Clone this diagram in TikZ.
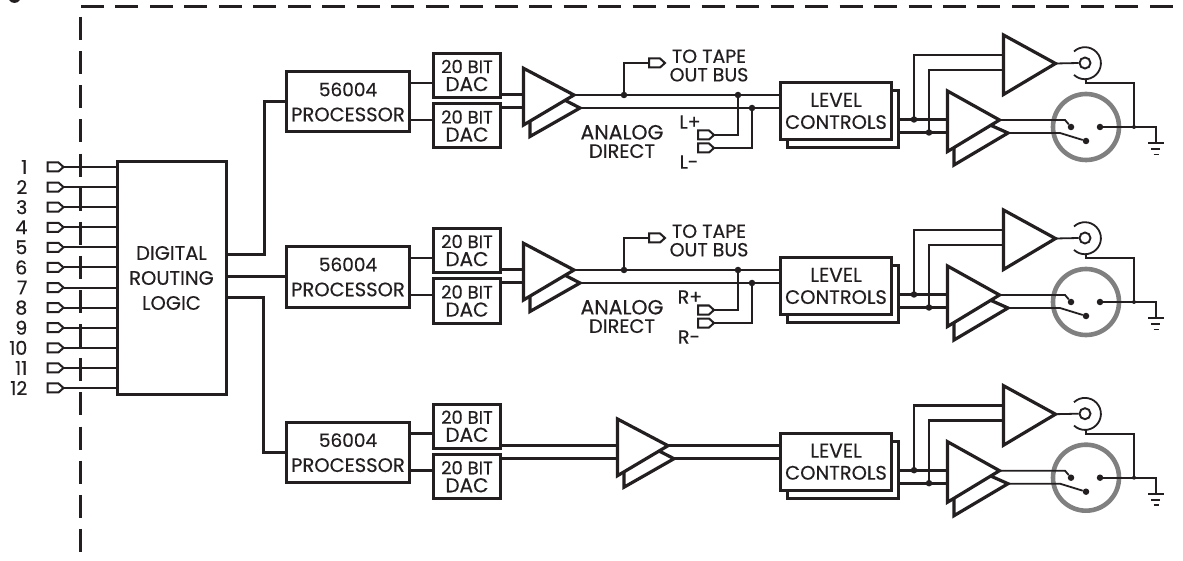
\documentclass[tikz,border=0pt]{standalone}
\usepackage{fontspec}
\setmainfont[FakeBold=0.35]{Poppins}
\definecolor{ink}{HTML}{231F20}
\newcommand{\fs}[1]{\fontsize{#1}{#1}\selectfont}
\tikzset{
  boxa/.style={draw=ink,fill=white,line width=3pt,rectangle,inner sep=0pt,align=center,text=ink},
  proc/.style={boxa,minimum width=123pt,minimum height=60pt,font=\fontsize{19}{25}\selectfont},
  dac/.style={boxa,minimum width=67pt,minimum height=44pt,font=\fontsize{18}{18}\selectfont},
  lev/.style={boxa,minimum width=111pt,minimum height=57pt,font=\fontsize{19}{22}\selectfont},
  lbl/.style={inner sep=0pt,align=center,text=ink,font=\fontsize{18}{18.5}\selectfont},
  bus/.style={draw=ink,line width=2.8pt},
  wire/.style={draw=ink,line width=2.6pt},
  thin wire/.style={draw=ink,line width=1.8pt},
  amp/.style={draw=ink,fill=white,line width=3.2pt,miter limit=10},
  dot/.style={circle,fill=ink,inner sep=0pt,minimum size=6.5pt},
  pin/.style={circle,fill=ink,inner sep=0pt,minimum size=6.5pt},
  plug/.style={draw=ink,fill=white,line width=2pt},
  frame/.style={draw=ink,line width=2.2pt}
}
% name, x, y of tail
\newcommand{\plugat}[3]{%
  \begin{scope}[shift={(#2,#3)}]
    \draw[plug] (0,-4.5) -- (11,-4.5) -- (16,0) -- (11,4.5) -- (0,4.5) -- cycle;
    \coordinate (#1) at (16,0);
  \end{scope}}
% name, x, top, bottom, tipx, tipy, backtipx, backbottomy
\newcommand{\dblamp}[8]{%
  \coordinate (#1-o1) at (#5,#6);
  \coordinate (#1-o2) at (#7,#6+13);
  \draw[amp] (#5-9.5,#6+5) -- (#7,#6+13) -- (#2+6.5,#8) -- (#2+6.5,#4-4);
  \draw[amp] (#2,#3) -- (#5,#6) -- (#2,#4) -- cycle;
  \coordinate (#1-i) at (#2,#6);}
\newcommand{\channel}{%
  \node[proc] (p) at (348,102) {{\fs{18.5}56004}\\{\fs{19.5}PROCESSOR}};
  \node[dac] (d1) at (467,75.5) {20 BIT\\{\fs{20}DAC}};
  \node[dac] (d2) at (467,126) {20 BIT\\{\fs{20}DAC}};
  \coordinate (l1) at (0,83);
  \coordinate (l2) at (0,120);
  \draw[bus] (p.east |- l1) -- (d1.west |- l1);
  \draw[bus] (p.east |- l2) -- (d2.west |- l2);
  \node[boxa,minimum width=111pt,minimum height=57pt] (lb) at (843,119) {};
  \node[lev] (lv) at (836,111) {{\fs{20}LEVEL}\\{\fs{19.5}CONTROLS}};
  % right hand part
  \coordinate (r1) at (0,119.5);
  \coordinate (r2) at (0,132.5);
  \coordinate (s1) at (0,55);
  \coordinate (s2) at (0,70);
  \coordinate (j1) at (914,119.5);
  \coordinate (j2) at (929,132.5);
  \draw[amp] (1003.5,35) -- (1055.5,63.5) -- (1003.5,94.5) -- cycle;
  \coordinate (ta-o) at (1055.5,63.5);
  \dblamp{ra}{947.5}{91}{151.5}{999.5}{120}{1008}{165}
  \draw[wire] (lb.east |- r1) -- (947.5,119.5);
  \draw[wire] (lb.east |- r2) -- (947.5,132.5);
  \draw[wire] (j1) -- (j1 |- s1) -- (1003.5,55);
  \draw[wire] (j2) -- (j2 |- s2) -- (1003.5,70);
  \node[dot] at (j1) {};
  \node[dot] at (j2) {};
  % jack
  \node[circle,draw=ink,fill=white,line width=1.9pt,minimum size=11pt,inner sep=0pt] (jk) at (1085,63) {};
  \draw[thin wire] (ta-o) -- (jk.west);
  \draw[thin wire] (1074,51.5) arc[start angle=-133,end angle=133,radius=16];
  % XLR
  \node[circle,draw=black!50,line width=4.6pt,minimum size=66pt,inner sep=0pt] (xl) at (1086,127) {};
  \node[pin] (x1) at (1071,127) {};
  \node[pin] (x2) at (1086,141) {};
  \node[pin] (x3) at (1100,127) {};
  \coordinate (sh) at (1134,127);
  \coordinate (gn) at (1156,143);
  \draw[thin wire] (ra-o1) -- (1065,120) -- (x1);
  \draw[thin wire] (ra-o2) -- (1060,133) -- (x2);
  \draw[thin wire] (x3) -- (sh) -- (sh -| gn) -- (gn);
  \draw[thin wire] (1086,79) -- (1086,83) -- (1134,83) -- (sh);
  \node[circle,fill=ink,inner sep=0pt,minimum size=4pt] at (sh) {};
  \draw[thin wire] (1148,143) -- (1164,143);
  \draw[thin wire] (1151,149) -- (1160,149);
  \draw[thin wire] (1153.5,154.5) -- (1158.5,154.5);}
% tap part for channels 1 and 2: #1 upper label, #2 lower label
\newcommand{\taps}[2]{%
  \dblamp{a}{523.5}{68.3}{125}{574}{95}{580}{136.5}
  \coordinate (t1) at (624,95);
  \coordinate (t2) at (738,95);
  \coordinate (t3) at (752,108);
  \draw[wire] (d1.east |- 0,94.5) -- (523.5,94.5);
  \draw[wire] (d2.east |- 0,107.7) -- (523.5,107.7);
  \draw[bus] (a-o1) -- (a-o1 -| lv.west);
  \draw[bus] (a-o2) -- (a-o2 -| lv.west);
  \plugat{tp}{649}{63}
  \plugat{pl}{698}{135}
  \plugat{mi}{698}{148}
  \draw[bus] (t1) -- (t1 |- tp) -- (649,63);
  \draw[bus] (t2) -- (t2 |- pl) -- (pl);
  \draw[bus] (t3) -- (t3 |- mi) -- (mi);
  \node[dot] at (t1) {};
  \node[dot] at (t2) {};
  \node[dot] at (t3) {};
  \node[lbl] (tt) at (709,65.5) {\fontsize{19}{19}\selectfont TO TAPE\\\fontsize{19}{19}\selectfont OUT BUS};
  \node[lbl] (ad) at (622,141.5) {{\fs{20.5}ANALOG}\\{\fs{19.5}DIRECT}};
  \node[lbl] (lp) at (690,122) {\fs{19}#1};
  \node[lbl] (lm) at (689,162) {\fs{19}#2};}
\begin{document}
\begin{tikzpicture}[x=1pt,y=-1pt]
  \useasboundingbox (0,0) rectangle (1183,561);
  \fill[white] (0,0) rectangle (1183,561);
  \draw[ink,line width=2.6pt] (10,-1) .. controls (12,2.5) and (17,2.5) .. (19,-1);
  % frame
  \coordinate (fa) at (81,6.5);
  \coordinate (fb) at (1173,6.5);
  \coordinate (fc) at (80.5,17);
  \coordinate (fd) at (80.5,552);
  \draw[frame,dash pattern=on 23pt off 11.48pt] (fa) -- (fb);
  \draw[frame,dash pattern=on 23pt off 11.13pt] (fc) -- (fd);
  % routing logic
  \node[boxa,minimum width=109pt,minimum height=233pt,font=\fontsize{19.5}{25}\selectfont] (rl) at (171.5,278) {DIGITAL\\ROUTING\\LOGIC};
  \foreach \i in {1,...,12}{
    \pgfmathsetmacro{\yy}{167+(\i-1)*20.09}
    \plugat{in\i}{47.5}{\yy}
    \node[lbl,anchor=east,font=\fontsize{19}{19}\selectfont] (lab\i) at (27.5,\yy) {\i};
    \draw[draw=ink,line width=2pt] (in\i) -- (in\i -| rl.west);
  }
  % channels
  \begin{scope}[name prefix=c1-]
    \channel
    \taps{L+}{L-}
  \end{scope}
  \begin{scope}[name prefix=c2-,shift={(0,175)}]
    \channel
    \taps{R+}{R-}
  \end{scope}
  \begin{scope}[name prefix=c3-,shift={(0,350.7)}]
    \channel
    \dblamp{a}{617.5}{68.3}{125}{668}{95}{674}{136.5}
    \draw[wire] (d1.east |- 0,95) -- (617.5,95);
    \draw[wire] (d2.east |- 0,107.7) -- (617.5,107.7);
    \draw[bus] (a-o1) -- (a-o1 -| lv.west);
    \draw[bus] (a-o2) -- (a-o2 -| lv.west);
  \end{scope}
  % routing outputs
  \coordinate (up) at (264,255);
  \coordinate (dn) at (263,298);
  \draw[bus,line width=3pt] (rl.east |- up) -- (up) -- (up |- c1-p.west) -- (c1-p.west);
  \draw[bus,line width=3pt] (rl.east |- c2-p.west) -- (c2-p.west);
  \draw[bus,line width=3pt] (rl.east |- dn) -- (dn) -- (dn |- c3-p.west) -- (c3-p.west);
\end{tikzpicture}
\end{document}
